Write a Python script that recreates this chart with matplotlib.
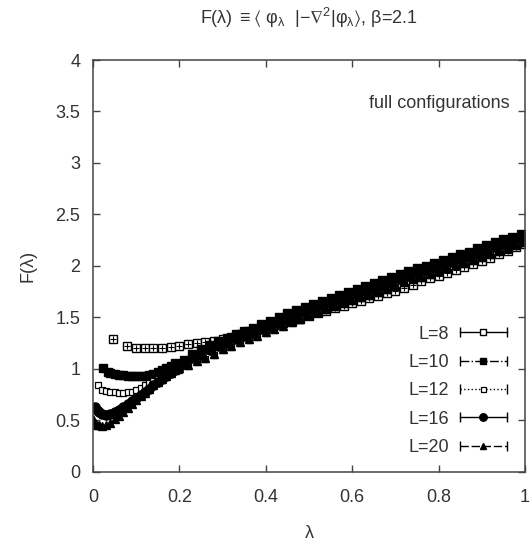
"""Recreation of the F(lambda) plot for full configurations, beta=2.1."""

import matplotlib
matplotlib.use("Agg")
import matplotlib.pyplot as plt
from matplotlib.lines import Line2D
from matplotlib.legend_handler import HandlerLine2D

# shared lambda grids for the region where all lattices overlap
LAM_EVEN = [0.20, 0.22, 0.24, 0.26, 0.28, 0.30, 0.32, 0.34, 0.36, 0.38,
            0.40, 0.42, 0.44, 0.46, 0.48, 0.50, 0.52, 0.54, 0.56, 0.58,
            0.60, 0.62, 0.64, 0.66, 0.68, 0.70, 0.72, 0.74, 0.76, 0.78,
            0.80, 0.82, 0.84, 0.86, 0.88, 0.90, 0.92, 0.94, 0.96, 0.98, 1.00]
LAM_ODD = [0.21, 0.23, 0.25, 0.27, 0.29, 0.31, 0.33, 0.35, 0.37, 0.39,
           0.41, 0.43, 0.45, 0.47, 0.49, 0.51, 0.53, 0.55, 0.57, 0.59,
           0.61, 0.63, 0.65, 0.67, 0.69, 0.71, 0.73, 0.75, 0.77, 0.79,
           0.81, 0.83, 0.85, 0.87, 0.89, 0.91, 0.93, 0.95, 0.97, 0.99]

# L=8
lam_8_low = [0.046, 0.078, 0.10, 0.12, 0.14, 0.16, 0.18]
f_8_low = [1.29, 1.22, 1.20, 1.20, 1.20, 1.20, 1.21]
f_8_high = [1.22, 1.24, 1.25, 1.26, 1.27, 1.29, 1.31, 1.34, 1.37, 1.39,
            1.41, 1.43, 1.45, 1.47, 1.49, 1.51, 1.54, 1.56, 1.59, 1.61,
            1.64, 1.66, 1.69, 1.71, 1.74, 1.76, 1.79, 1.82, 1.85, 1.88,
            1.90, 1.93, 1.96, 1.99, 2.02, 2.05, 2.08, 2.12, 2.15, 2.18, 2.21]

# L=10
lam_10_low = [0.023, 0.035, 0.04, 0.05, 0.06, 0.07, 0.08, 0.09, 0.10, 0.11,
              0.12, 0.13, 0.14, 0.15, 0.16, 0.17, 0.18, 0.19]
f_10_low = [1.01, 0.97, 0.96, 0.95, 0.945, 0.94, 0.935, 0.93, 0.93, 0.93,
            0.935, 0.945, 0.955, 0.97, 0.99, 1.01, 1.03, 1.06]
f_10_high = [1.09, 1.15, 1.19, 1.23, 1.27, 1.30, 1.34, 1.37, 1.40, 1.44,
             1.47, 1.50, 1.54, 1.57, 1.60, 1.63, 1.66, 1.69, 1.72, 1.75,
             1.78, 1.81, 1.83, 1.86, 1.89, 1.92, 1.95, 1.98, 2.00, 2.03,
             2.06, 2.09, 2.12, 2.14, 2.17, 2.20, 2.23, 2.26, 2.28, 2.31]

# L=12
lam_12_low = [0.012, 0.02, 0.03, 0.04, 0.05, 0.06, 0.07, 0.08, 0.09, 0.10,
              0.11, 0.12, 0.13, 0.14, 0.15, 0.16, 0.17, 0.18]
f_12_low = [0.84, 0.80, 0.79, 0.78, 0.775, 0.77, 0.77, 0.775, 0.78, 0.80,
            0.82, 0.84, 0.86, 0.88, 0.90, 0.92, 0.94, 0.96]
f_12_high = [0.99, 1.03, 1.07, 1.10, 1.14, 1.18, 1.21, 1.25, 1.28, 1.31,
             1.35, 1.38, 1.41, 1.45, 1.48, 1.51, 1.54, 1.57, 1.60, 1.63,
             1.66, 1.69, 1.71, 1.74, 1.77, 1.80, 1.83, 1.86, 1.88, 1.91,
             1.94, 1.97, 2.00, 2.02, 2.05, 2.08, 2.11, 2.14, 2.16, 2.19, 2.22]

# L=16
lam_16_low = [0.005, 0.01, 0.015, 0.02, 0.03, 0.04, 0.05, 0.06, 0.07, 0.08,
              0.09, 0.10, 0.11, 0.12, 0.13, 0.14, 0.15, 0.16, 0.17, 0.18,
              0.19, 0.20]
f_16_low = [0.63, 0.60, 0.58, 0.56, 0.555, 0.56, 0.58, 0.60, 0.63, 0.66,
            0.69, 0.72, 0.75, 0.78, 0.81, 0.84, 0.87, 0.90, 0.93, 0.96,
            0.99, 1.02]
f_16_high = [1.07, 1.11, 1.14, 1.18, 1.22, 1.25, 1.29, 1.32, 1.35, 1.39,
             1.42, 1.45, 1.49, 1.52, 1.55, 1.58, 1.61, 1.64, 1.67, 1.70,
             1.73, 1.76, 1.78, 1.81, 1.84, 1.87, 1.90, 1.93, 1.95, 1.98,
             2.01, 2.04, 2.07, 2.09, 2.12, 2.15, 2.18, 2.21, 2.23, 2.26]

# L=20
lam_20_low = [0.0, 0.005, 0.01, 0.015, 0.02, 0.03, 0.04, 0.05, 0.06, 0.07,
              0.08, 0.09, 0.10, 0.11, 0.12, 0.13, 0.14, 0.15, 0.16, 0.17,
              0.18, 0.19]
f_20_low = [0.51, 0.48, 0.46, 0.455, 0.45, 0.46, 0.48, 0.51, 0.54, 0.58,
            0.62, 0.66, 0.70, 0.735, 0.77, 0.805, 0.84, 0.87, 0.90, 0.93,
            0.96, 0.99]
f_20_high = [1.01, 1.04, 1.08, 1.11, 1.15, 1.19, 1.22, 1.26, 1.29, 1.32,
             1.36, 1.39, 1.42, 1.46, 1.49, 1.52, 1.55, 1.58, 1.61, 1.64,
             1.67, 1.70, 1.72, 1.75, 1.78, 1.81, 1.84, 1.87, 1.89, 1.92,
             1.95, 1.98, 2.01, 2.03, 2.06, 2.09, 2.12, 2.15, 2.17, 2.20, 2.23]

labels = ["L=8", "L=10", "L=12", "L=16", "L=20"]

FONT = ["Liberation Sans", "DejaVu Sans"]
TEXT_COLOR = "#333333"
FS = 13


def main() -> None:
    plt.rcParams["font.family"] = FONT
    plt.rcParams["mathtext.fontset"] = "custom"
    plt.rcParams["mathtext.rm"] = "Liberation Sans"
    plt.rcParams["mathtext.it"] = "Liberation Sans"
    plt.rcParams["mathtext.fallback"] = "stixsans"

    fig = plt.figure(figsize=(5.32, 5.44), dpi=100)
    ax = fig.add_axes([0.1748, 0.1324, 0.8120, 0.7573])

    series = [
        (lam_8_low + LAM_EVEN, f_8_low + f_8_high),
        (lam_10_low + LAM_ODD, f_10_low + f_10_high),
        (lam_12_low + LAM_EVEN, f_12_low + f_12_high),
        (lam_16_low + LAM_ODD, f_16_low + f_16_high),
        (lam_20_low + LAM_EVEN, f_20_low + f_20_high),
    ]
    styles = [
        dict(marker="s", ms=5.2, mfc="white", mec="black", mew=1.0),
        dict(marker="s", ms=6.2, mfc="black", mec="black", mew=1.0),
        dict(marker="s", ms=4.0, mfc="white", mec="black", mew=0.9),
        dict(marker="o", ms=6.6, mfc="black", mec="black", mew=1.0),
        dict(marker="^", ms=5.6, mfc="black", mec="black", mew=1.0),
    ]
    legend_styles = [
        dict(marker="s", ms=4.5, mfc="white", mec="black", mew=1.0),
        dict(marker="s", ms=5.0, mfc="black", mec="black", mew=1.0),
        dict(marker="s", ms=3.6, mfc="white", mec="black", mew=0.9),
        dict(marker="o", ms=5.4, mfc="black", mec="black", mew=1.0),
        dict(marker="^", ms=4.0, mfc="black", mec="black", mew=1.0),
    ]
    bar_styles = ["-", "-.", ":", "-", (0, (6, 2))]

    for (lam, f), st in zip(series, styles):
        ax.plot(lam, f, ls="none", **st)
    # the L=8 squares carry a small cross inside
    ax.plot(series[0][0], series[0][1], ls="none", marker="+", ms=4.4,
            mec="black", mew=0.8)

    # legend: label first, then a horizontal error-bar glyph
    handles = []
    handler_map = {}
    for st, ls in zip(legend_styles, bar_styles):
        bar = Line2D([], [], color="black", lw=1.0, ls=ls, marker="|",
                     ms=7, mew=1.0)
        mark = Line2D([], [], ls="none", **st)
        handler_map[mark] = HandlerLine2D(numpoints=1)
        handles.append((bar, mark))
    ax.legend(handles, labels, handler_map=handler_map, numpoints=2,
              loc="lower right", bbox_to_anchor=(1.0, 0.008),
              frameon=False, markerfirst=False, fontsize=FS,
              handlelength=3.2, handletextpad=0.3, labelspacing=0.63,
              borderpad=0.2, labelcolor=TEXT_COLOR)

    ax.text(0.965, 0.895, "full configurations", transform=ax.transAxes,
            ha="right", va="center", fontsize=FS, color=TEXT_COLOR)

    ax.set_xlim(0, 1)
    ax.set_ylim(0, 4)
    ax.set_xticks([0, 0.2, 0.4, 0.6, 0.8, 1])
    ax.set_xticklabels(["0", "0.2", "0.4", "0.6", "0.8", "1"])
    ax.set_yticks([0, 0.5, 1, 1.5, 2, 2.5, 3, 3.5, 4])
    ax.set_yticklabels(["0", "0.5", "1", "1.5", "2", "2.5", "3", "3.5", "4"])
    ax.tick_params(direction="in", top=True, right=True, length=5,
                   width=1.0, color="#444444", labelsize=FS,
                   labelcolor=TEXT_COLOR)
    ax.tick_params(axis="x", pad=12)
    ax.tick_params(axis="y", pad=9)
    for spine in ax.spines.values():
        spine.set_color("#444444")
        spine.set_linewidth(1.1)

    ax.set_xlabel("λ", fontsize=FS, color=TEXT_COLOR, labelpad=14)
    ax.set_ylabel("F(λ)", fontsize=FS, color=TEXT_COLOR, labelpad=14)
    ax.set_title(r"F(λ) $\equiv\langle$ φ$_{λ}$  |$-\nabla^{2}$|φ$_{λ}\rangle$, β=2.1",
                 fontsize=FS, color=TEXT_COLOR, pad=26)

    fig.savefig("out.png", dpi=100)


if __name__ == "__main__":
    main()
